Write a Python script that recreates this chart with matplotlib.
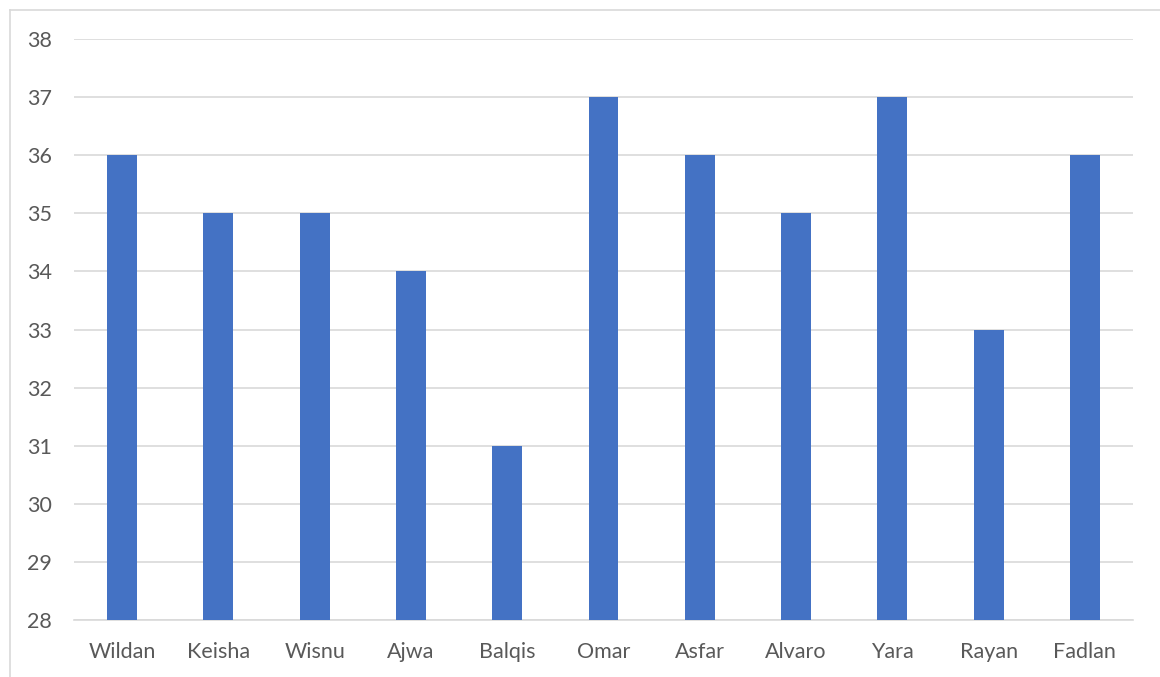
import matplotlib.pyplot as plt
from matplotlib.lines import Line2D

names = ['Wildan', 'Keisha', 'Wisnu', 'Ajwa', 'Balqis', 'Omar',
         'Asfar', 'Alvaro', 'Yara', 'Rayan', 'Fadlan']
values = [36, 35, 35, 34, 31, 37, 36, 35, 37, 33, 36]
yticks = list(range(28, 39))

plt.rcParams['font.family'] = ['Lato', 'DejaVu Sans']

fig = plt.figure(figsize=(11.6, 6.77), dpi=100)
ax = fig.add_axes([74/1160, 1-620/677, (1133-74)/1160, (620-39)/677])

# chart frame (only left and top edge visible)
fig.add_artist(Line2D([10/1160, 10/1160], [0, 1-10/677], color='#d9d9d9', lw=1.2))
fig.add_artist(Line2D([10/1160, 1], [1-10/677, 1-10/677], color='#d9d9d9', lw=1.2))

x = range(len(names))
ax.bar(x, values, width=0.31, color='#4472c4', zorder=3, bottom=0)
ax.set_ylim(28, 38)
ax.set_xlim(-0.5, len(names) - 0.5)
ax.set_yticks(yticks)
ax.set_xticks(list(x))
ax.set_xticklabels(names)
ax.yaxis.grid(True, color='#d9d9d9', lw=1.2, zorder=0)
ax.set_axisbelow(True)
for s in ['left', 'right', 'top']:
    ax.spines[s].set_visible(False)
ax.spines['bottom'].set_color('#d9d9d9')
ax.spines['bottom'].set_linewidth(1.2)
ax.tick_params(axis='both', length=0, labelsize=15.5, labelcolor='#595959')
ax.tick_params(axis='y', pad=16)
ax.tick_params(axis='x', pad=16)

fig.savefig('out.png', dpi=100)
